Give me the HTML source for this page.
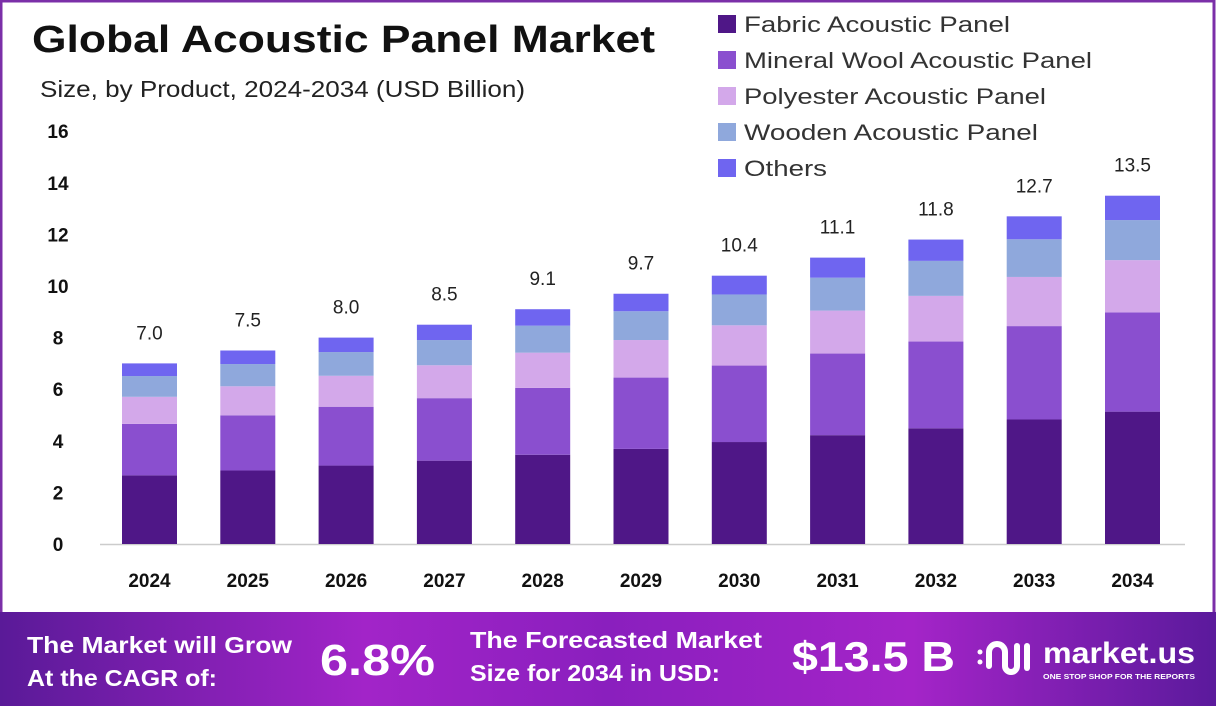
<!DOCTYPE html>
<html><head><meta charset="utf-8"><style>
html,body{margin:0;padding:0;background:#fff}
#w{position:relative;width:1216px;height:706px;overflow:hidden;font-family:"Liberation Sans",sans-serif}
</style></head><body><div id="w">
<svg id="s" width="1216" height="706" xmlns="http://www.w3.org/2000/svg">
<defs>
<linearGradient id="bg" x1="0" x2="1" y1="0" y2="0">
<stop offset="0" stop-color="#5a1a98"/><stop offset="0.3" stop-color="#a224c8"/><stop offset="0.5" stop-color="#8a1fbe"/><stop offset="0.75" stop-color="#a424c8"/><stop offset="1" stop-color="#5b1a9c"/>
</linearGradient>
</defs>
<rect x="0" y="0" width="1216" height="706" fill="#fff"/>
<rect x="1" y="1" width="1213" height="640" fill="none" stroke="#7b2fa8" stroke-width="3"/>
<rect x="0" y="612" width="1216" height="94" fill="url(#bg)"/>
<text x="32" y="52" font-size="38" font-weight="bold" fill="#111" textLength="623" lengthAdjust="spacingAndGlyphs">Global Acoustic Panel Market</text>
<text x="40" y="97" font-size="23" fill="#222" textLength="485" lengthAdjust="spacingAndGlyphs">Size, by Product, 2024-2034 (USD Billion)</text>
<g font-size="22" fill="#333">
<rect x="718" y="15" width="18" height="18" fill="#4f1787"/><text x="744" y="32" textLength="266" lengthAdjust="spacingAndGlyphs">Fabric Acoustic Panel</text>
<rect x="718" y="51" width="18" height="18" fill="#8a4fcf"/><text x="744" y="68" textLength="348" lengthAdjust="spacingAndGlyphs">Mineral Wool Acoustic Panel</text>
<rect x="718" y="87" width="18" height="18" fill="#d3a8ea"/><text x="744" y="104" textLength="302" lengthAdjust="spacingAndGlyphs">Polyester Acoustic Panel</text>
<rect x="718" y="123" width="18" height="18" fill="#8fa8dc"/><text x="744" y="140" textLength="294" lengthAdjust="spacingAndGlyphs">Wooden Acoustic Panel</text>
<rect x="718" y="159" width="18" height="18" fill="#6f65f0"/><text x="744" y="176" textLength="83" lengthAdjust="spacingAndGlyphs">Others</text>
</g>
<g id="ax" font-size="19" font-weight="bold" fill="#111" text-anchor="middle"></g>
<line x1="100" y1="544.5" x2="1185" y2="544.5" stroke="#ccc" stroke-width="1.5"/>
<g id="bars"></g>
<g font-weight="bold" fill="#fff">
<text x="27" y="653" font-size="23" textLength="265" lengthAdjust="spacingAndGlyphs">The Market will Grow</text>
<text x="27" y="686" font-size="23" textLength="190" lengthAdjust="spacingAndGlyphs">At the CAGR of:</text>
<text x="320" y="675" font-size="44" textLength="115" lengthAdjust="spacingAndGlyphs">6.8%</text>
<text x="470" y="648" font-size="23" textLength="292" lengthAdjust="spacingAndGlyphs">The Forecasted Market</text>
<text x="470" y="681" font-size="23" textLength="250" lengthAdjust="spacingAndGlyphs">Size for 2034 in USD:</text>
<text x="792" y="671" font-size="42" textLength="163" lengthAdjust="spacingAndGlyphs">$13.5 B</text>
<text x="1043" y="663" font-size="30" textLength="152" lengthAdjust="spacingAndGlyphs">market.us</text>
<text x="1043" y="679" font-size="7.5" textLength="152" lengthAdjust="spacingAndGlyphs">ONE STOP SHOP FOR THE REPORTS</text>
</g>
<g fill="none" stroke="#fff" stroke-width="6" stroke-linecap="round">
<path d="M989 666 V652 a8 8 0 0 1 16 0 V666 a6 6 0 0 0 12 0 V646"/>
<path d="M1027 646 V668"/>
</g>
<circle cx="980" cy="652" r="2.5" fill="#fff"/><circle cx="980" cy="662" r="2.5" fill="#fff"/>
</svg>
<script>
var NS="http://www.w3.org/2000/svg";
function el(t,a,p,txt){var e=document.createElementNS(NS,t);for(var k in a)e.setAttribute(k,a[k]);if(txt)e.textContent=txt;p.appendChild(e);return e;}
var ax=document.getElementById("ax"),bars=document.getElementById("bars");
var y0=544,sc=25.8;
for(var i=0;i<=16;i+=2){el("text",{x:58,y:y0-i*sc+7},ax,String(i));}
var vals=[7.0,7.5,8.0,8.5,9.1,9.7,10.4,11.1,11.8,12.7,13.5];
var cum=[0,0.38,0.665,0.815,0.93,1];
var cols=["#4f1787","#8a4fcf","#d3a8ea","#8fa8dc","#6f65f0"];
vals.forEach(function(v,i){
 var x=122+i*98.3;
 for(var j=0;j<5;j++){
  var a=y0-v*cum[j]*sc,b=y0-v*cum[j+1]*sc;
  el("rect",{x:x,y:b,width:55,height:a-b,fill:cols[j]},bars);
 }
 el("text",{x:x+27.5,y:y0-v*sc-24,"font-size":19,fill:"#222","text-anchor":"middle"},bars,v.toFixed(1));
 el("text",{x:x+27.5,y:587,"font-size":19,"font-weight":"bold",fill:"#111","text-anchor":"middle"},bars,String(2024+i));
});
</script>
</div></body></html>
